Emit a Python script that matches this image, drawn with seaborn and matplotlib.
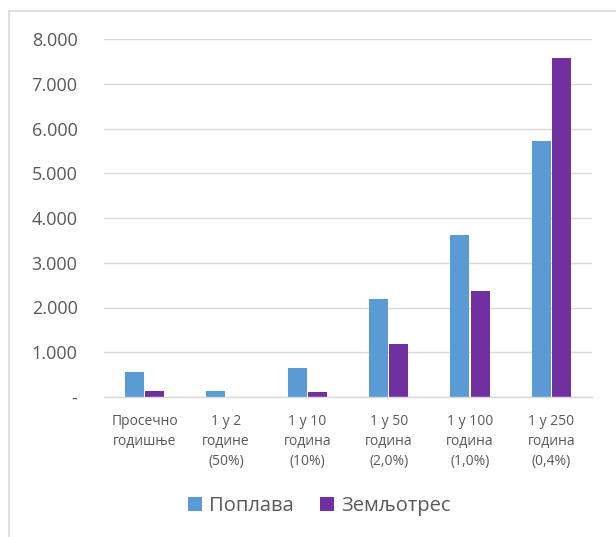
import matplotlib
matplotlib.use("Agg")
import matplotlib.pyplot as plt
import matplotlib.ticker as mticker
from matplotlib.patches import Rectangle
import seaborn as sns
import pandas as pd

# Loss estimates per return period
categories = ["Просечно\nгодишње", "1 у 2\nгодине\n(50%)", "1 у 10\nгодина\n(10%)",
              "1 у 50\nгодина\n(2,0%)", "1 у 100\nгодина\n(1,0%)", "1 у 250\nгодина\n(0,4%)"]
series_names = ["Поплава", "Земљотрес"]
flood = [560, 125, 645, 2195, 3620, 5720]
earthquake = [135, 0, 120, 1195, 2365, 7580]
colors = ["#5B9BD5", "#7030A0"]
yticks = [0, 1000, 2000, 3000, 4000, 5000, 6000, 7000, 8000]

df = pd.DataFrame({
    "cat": categories * 2,
    "series": [series_names[0]] * len(categories) + [series_names[1]] * len(categories),
    "value": flood + earthquake,
})

sns.set_theme(style="white")
plt.rcParams["font.family"] = ["Open Sans", "DejaVu Sans"]
text_color = "#595959"
grid_color = "#D9D9D9"

W, H = 616, 537
fig = plt.figure(figsize=(W / 100, H / 100), dpi=100)
ax = fig.add_axes([104 / W, 1 - 397 / H, (592 - 104) / W, (397 - 39) / H])

sns.barplot(data=df, x="cat", y="value", hue="series", order=categories,
            hue_order=series_names, palette=colors, width=0.5, gap=0.0,
            saturation=1, linewidth=0, ax=ax, legend=True)

# leave a thin gap between the two bars of a group
for bar in ax.patches:
    w = bar.get_width()
    bar.set_x(bar.get_x() + w * 0.04)
    bar.set_width(w * 0.92)

ax.set_xlim(-0.5, len(categories) - 0.5)
ax.set_ylim(0, 8000)
ax.set_yticks(yticks)
ax.yaxis.set_major_formatter(mticker.FuncFormatter(
    lambda v, p: "-" if v == 0 else f"{int(v):,}".replace(",", ".")))
ax.grid(axis="y", color=grid_color, linewidth=1)
ax.set_axisbelow(True)
for s in ["top", "right", "left"]:
    ax.spines[s].set_visible(False)
ax.spines["bottom"].set_color(grid_color)
ax.spines["bottom"].set_linewidth(1)
ax.tick_params(axis="y", length=0, pad=19, labelsize=13, labelcolor=text_color)
ax.tick_params(axis="x", length=0, pad=12, labelsize=10, labelcolor=text_color)
for lab in ax.get_xticklabels():
    lab.set_linespacing(1.45)
ax.set_xlabel("")
ax.set_ylabel("")

leg = ax.legend(loc="center", bbox_to_anchor=(319 / W, 1 - 506 / H),
                bbox_transform=fig.transFigure, ncol=2, frameon=False, fontsize=14.5,
                handlelength=0.7, handleheight=0.7, handletextpad=0.35,
                columnspacing=1.3, labelcolor=text_color)

# chart frame
fig.patches.append(Rectangle((8.5 / W, -0.1), 1.2, 1.1 - 10.5 / H,
                             transform=fig.transFigure, fill=False,
                             edgecolor=grid_color, linewidth=1.2, zorder=0))

fig.savefig("out.png", dpi=100)
